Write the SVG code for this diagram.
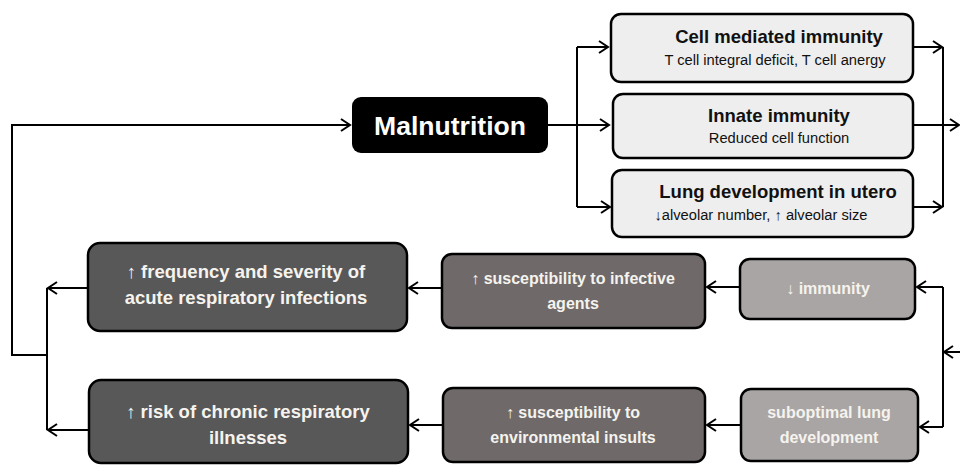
<svg xmlns="http://www.w3.org/2000/svg" width="960" height="466" viewBox="0 0 960 466">
<defs>
<marker id="ah" markerWidth="12" markerHeight="14" refX="10" refY="7" orient="auto" markerUnits="userSpaceOnUse">
<path d="M1,1 L10,7 L1,13" fill="none" stroke="#000" stroke-width="2"/>
</marker>
<style>
.box{stroke:#000;stroke-width:2.5}
.light{fill:#eeeeee}
.dark{fill:#585858}
.mid{fill:#6f6a69}
.pale{fill:#a9a5a4}
.t{font-family:"Liberation Sans",Arial,sans-serif;text-anchor:middle}
.hb{font-weight:bold;font-size:18.5px;fill:#111}
.sub{font-size:14.7px;fill:#111}
.w{font-weight:bold;fill:#f6f3ee}
.c{fill:none;stroke:#000;stroke-width:2}
</style>
</defs>
<rect width="960" height="466" fill="#fff"/>
<g id="connectors">
<path class="c" d="M47,355 H12 V125 H350" marker-end="url(#ah)"/>
<path class="c" d="M47,288 V430"/>
<path class="c" d="M87,288 H48" marker-end="url(#ah)"/>
<path class="c" d="M88,430 H48" marker-end="url(#ah)"/>
<path class="c" d="M548,125 H609" marker-end="url(#ah)"/>
<path class="c" d="M577,47 V207"/>
<path class="c" d="M577,47 H608" marker-end="url(#ah)"/>
<path class="c" d="M577,207 H610" marker-end="url(#ah)"/>
<path class="c" d="M913,47 H942" marker-end="url(#ah)"/>
<path class="c" d="M913,207 H942" marker-end="url(#ah)"/>
<path class="c" d="M943,47 V207"/>
<path class="c" d="M913,125 H959" marker-end="url(#ah)"/>
<path class="c" d="M960,352 H944" marker-end="url(#ah)"/>
<path class="c" d="M943,287 V427"/>
<path class="c" d="M943,287 H917" marker-end="url(#ah)"/>
<path class="c" d="M943,427 H920" marker-end="url(#ah)"/>
<path class="c" d="M739,287 H707" marker-end="url(#ah)"/>
<path class="c" d="M740,425 H707" marker-end="url(#ah)"/>
<path class="c" d="M441,288 H409" marker-end="url(#ah)"/>
<path class="c" d="M442,425 H410" marker-end="url(#ah)"/>
</g>
<g id="malnutrition">
<rect x="352" y="97" width="196" height="56" rx="9" fill="#000"/>
<text class="t" x="450" y="135" font-size="26" font-weight="bold" fill="#fff" textLength="152" lengthAdjust="spacingAndGlyphs">Malnutrition</text>
</g>
<g id="cell-mediated">
<rect class="box light" x="611" y="14" width="302" height="68" rx="10"/>
<text class="t hb" x="779" y="43">Cell mediated immunity</text>
<text class="t sub" x="775" y="65">T cell integral deficit, T cell anergy</text>
</g>
<g id="innate">
<rect class="box light" x="613" y="94" width="300" height="64" rx="10"/>
<text class="t hb" x="779" y="122">Innate immunity</text>
<text class="t sub" x="779" y="143">Reduced cell function</text>
</g>
<g id="lung-utero">
<rect class="box light" x="612" y="170" width="301" height="67" rx="10"/>
<text class="t hb" x="778" y="198" font-size="18">Lung development in utero</text>
<text class="t sub" x="761" y="220">↓alveolar number, ↑ alveolar size</text>
</g>
<g id="immunity">
<rect class="box pale" x="740" y="259" width="175" height="60" rx="10"/>
<text class="t w" x="828" y="294" font-size="16">↓ immunity</text>
</g>
<g id="suboptimal">
<rect class="box pale" x="741" y="389" width="177" height="72" rx="10"/>
<text class="t w" x="829" y="418" font-size="16">suboptimal lung</text>
<text class="t w" x="829" y="443" font-size="16">development</text>
</g>
<g id="infective">
<rect class="box mid" x="442" y="254" width="263" height="74" rx="10"/>
<text class="t w" x="573" y="284" font-size="16">↑ susceptibility to infective</text>
<text class="t w" x="573" y="309" font-size="16">agents</text>
</g>
<g id="environmental">
<rect class="box mid" x="443" y="388" width="262" height="74" rx="10"/>
<text class="t w" x="573" y="418" font-size="16">↑ susceptibility to</text>
<text class="t w" x="573" y="443" font-size="16">environmental insults</text>
</g>
<g id="acute">
<rect class="box dark" x="88" y="243" width="319" height="88" rx="12"/>
<text class="t w" x="246" y="278" font-size="18.5">↑ frequency and severity of</text>
<text class="t w" x="246" y="304" font-size="18.5">acute respiratory infections</text>
</g>
<g id="chronic">
<rect class="box dark" x="89" y="380" width="319" height="83" rx="12"/>
<text class="t w" x="248" y="418" font-size="18.5">↑ risk of chronic respiratory</text>
<text class="t w" x="248" y="444" font-size="18.5">illnesses</text>
</g>
</svg>
